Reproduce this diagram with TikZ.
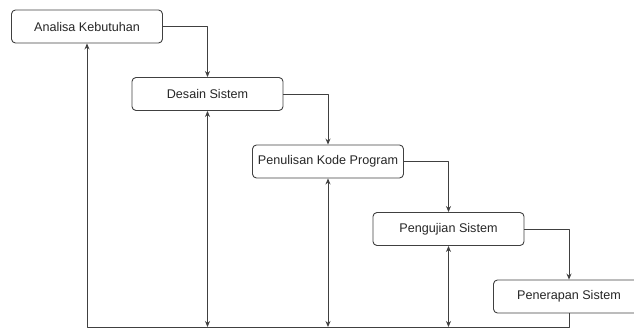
\documentclass[tikz,border=0pt]{standalone}
\usepackage{fontspec}
\setmainfont{Liberation Sans}
\usetikzlibrary{arrows.meta}
\begin{document}
\begin{tikzpicture}[x=1pt,y=-1pt,>={Stealth[length=6pt,width=5pt]}, line join=round,
	tahap/.style={draw=black!75, line width=0.9pt, rounded corners=4pt, minimum width=151pt, minimum height=33pt, inner sep=0pt, font=\fontsize{12.6}{15}\selectfont, text=black!85},
	alur/.style={draw=black!75, line width=0.9pt}]
	\def\dx{120.5} \def\dy{67.5} % jarak antar tahap
	\path[use as bounding box, clip] (0,0) rectangle (634,329);
	\node[tahap] (ana) at (87,26.5) {Analisa Kebutuhan};
	\node[tahap] (des) at (87+\dx,26.5+\dy) {Desain Sistem};
	\node[tahap] (pen) at (87+2*\dx,26.5+2*\dy) {Penulisan Kode Program};
	\node[tahap] (uji) at (87+3*\dx,26.5+3*\dy) {Pengujian Sistem};
	\node[tahap] (ter) at (87+4*\dx,26.5+4*\dy) {Penerapan Sistem};
	\coordinate (dasar) at (87,327);
	\draw[alur,->] (ana.east) -| (des.north);
	\draw[alur,->] (des.east) -| (pen.north);
	\draw[alur,->] (pen.east) -| (uji.north);
	\draw[alur,->] (uji.east) -| (ter.north);
	\draw[alur,->] (ter.south) |- (dasar) -- (ana.south);
	\draw[alur,<->] (des.south) -- (des.south |- dasar);
	\draw[alur,<->] (pen.south) -- (pen.south |- dasar);
	\draw[alur,<->] (uji.south) -- (uji.south |- dasar);
\end{tikzpicture}
\end{document}
